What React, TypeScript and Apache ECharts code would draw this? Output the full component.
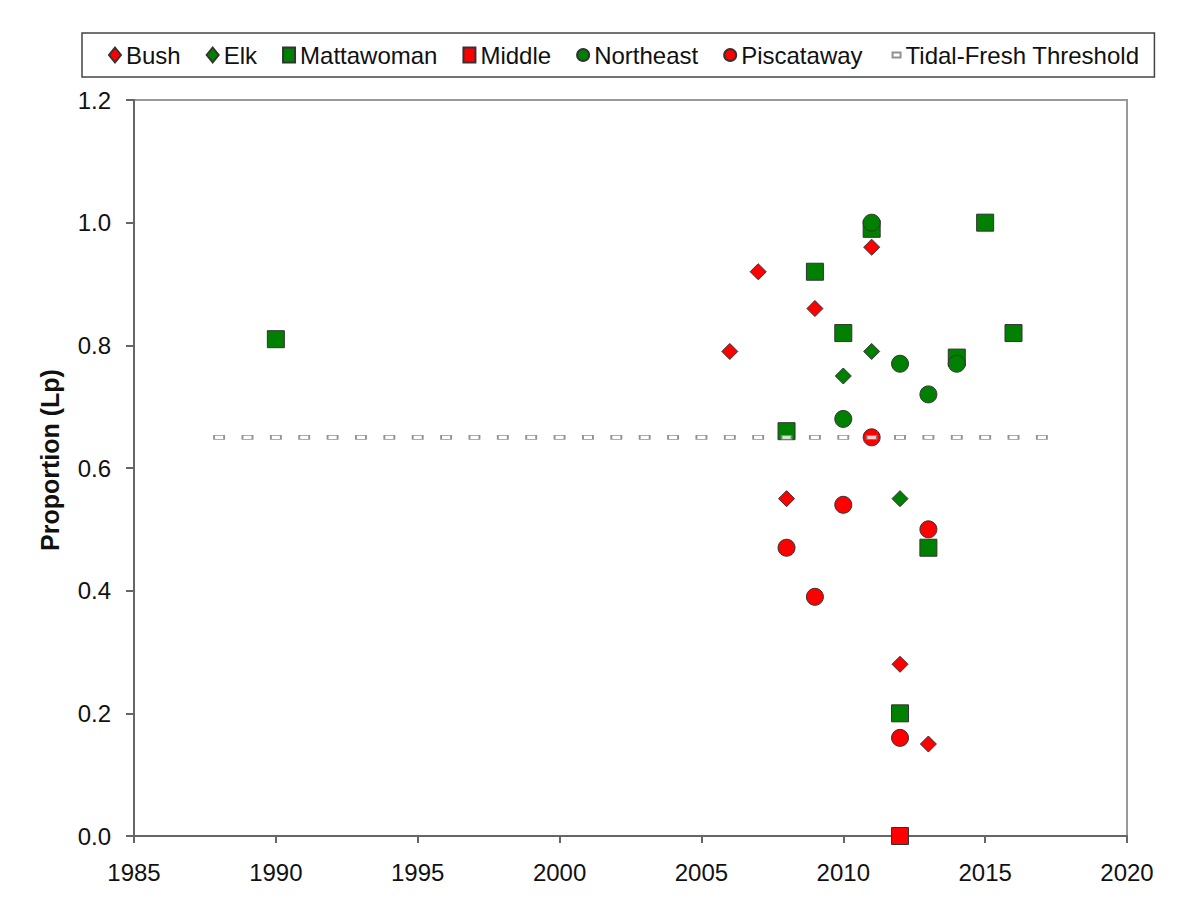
import React, { useEffect, useRef } from "react";
import * as echarts from "echarts";

const bushYears = [2006, 2007, 2008, 2009, 2011, 2012, 2013];
const bushValues = [0.79, 0.92, 0.55, 0.86, 0.96, 0.28, 0.15];
const elkYears = [2010, 2011, 2012];
const elkValues = [0.75, 0.79, 0.55];
const mattawomanYears = [1990, 2008, 2009, 2010, 2011, 2012, 2013, 2014, 2015, 2016];
const mattawomanValues = [0.81, 0.66, 0.92, 0.82, 0.99, 0.2, 0.47, 0.78, 1.0, 0.82];
const middleYears = [2012];
const middleValues = [0.0];
const northeastYears = [2010, 2011, 2012, 2013, 2014];
const northeastValues = [0.68, 1.0, 0.77, 0.72, 0.77];
const piscatawayYears = [2008, 2009, 2010, 2011, 2012, 2013];
const piscatawayValues = [0.47, 0.39, 0.54, 0.65, 0.16, 0.5];
const thresholdYears = [
  1988, 1989, 1990, 1991, 1992, 1993, 1994, 1995, 1996, 1997, 1998, 1999, 2000, 2001, 2002,
  2003, 2004, 2005, 2006, 2007, 2008, 2009, 2010, 2011, 2012, 2013, 2014, 2015, 2016, 2017,
];
const thresholdValue = 0.65;

const zip = (xs: number[], ys: number[]) => xs.map((x, i) => [x, ys[i]]);

const FONT = "Liberation Sans, Arial, sans-serif";
const RED = "#FF0000";
const GREEN = "#008000";
const EDGE = "#333333";

export default function App() {
  const ref = useRef<HTMLDivElement>(null);
  useEffect(() => {
    document.body.style.margin = "0";
    const chart = echarts.init(ref.current!, undefined, { renderer: "svg" });
    const mk = (name: string, symbol: string, size: number, color: string, data: number[][]) => ({
      name,
      type: "scatter",
      symbol,
      symbolSize: size,
      itemStyle: { color, borderColor: EDGE, borderWidth: 1, opacity: 1 },
      data,
      z: 2,
    });
    chart.setOption({
      animation: false,
      backgroundColor: "#ffffff",
      textStyle: { fontFamily: FONT },
      legend: {
        left: 82,
        top: 33,
        padding: [10, 15, 10, 26],
        borderColor: "#444",
        borderWidth: 1.5,
        itemGap: 25,
        itemWidth: 12,
        itemHeight: 15,
        textStyle: { fontFamily: FONT, fontSize: 24, color: "#111" },
        data: [
          { name: "Bush" },
          { name: "Elk" },
          { name: "Mattawoman" },
          { name: "Middle" },
          { name: "Northeast" },
          { name: "Piscataway" },
          {
            name: "Tidal-Fresh Threshold",
            icon: "path://M0,0M12,15M4,5h8v5h-8z",
          },
        ],
      },
      grid: {
        left: 134,
        right: 55,
        top: 100,
        bottom: 77,
        show: true,
        borderColor: "#999",
        borderWidth: 2,
      },
      xAxis: {
        type: "value",
        min: 1985,
        max: 2020,
        interval: 5,
        axisLine: { show: true, onZero: false, lineStyle: { color: "#666", width: 2 } },
        axisTick: { show: true, inside: false, length: 7, lineStyle: { color: "#666", width: 2 } },
        splitLine: { show: false },
        axisLabel: {
          fontFamily: FONT,
          fontSize: 24,
          color: "#111",
          margin: 24,
          formatter: (v: number) => String(v),
        },
      },
      yAxis: {
        type: "value",
        min: 0,
        max: 1.2,
        interval: 0.2,
        name: "Proportion (Lp)",
        nameLocation: "middle",
        nameGap: 72,
        nameTextStyle: {
          fontFamily: FONT,
          fontSize: 25,
          fontWeight: "bold",
          color: "#111",
          padding: [0, 0, 0, 16],
        },
        axisLine: { show: true, onZero: false, lineStyle: { color: "#666", width: 2 } },
        axisTick: { show: true, inside: false, length: 8, lineStyle: { color: "#666", width: 2 } },
        splitLine: { show: false },
        axisLabel: {
          fontFamily: FONT,
          fontSize: 24,
          color: "#111",
          margin: 23,
          formatter: (v: number) => v.toFixed(1),
        },
      },
      series: [
        mk("Bush", "diamond", 16, RED, zip(bushYears, bushValues)),
        mk("Elk", "diamond", 16, GREEN, zip(elkYears, elkValues)),
        mk("Mattawoman", "rect", 17, GREEN, zip(mattawomanYears, mattawomanValues)),
        mk("Middle", "rect", 17, RED, zip(middleYears, middleValues)),
        mk("Northeast", "circle", 17, GREEN, zip(northeastYears, northeastValues)),
        mk("Piscataway", "circle", 17, RED, zip(piscatawayYears, piscatawayValues)),
        {
          name: "Tidal-Fresh Threshold",
          type: "scatter",
          symbol: "rect",
          symbolSize: [10, 4],
          itemStyle: { color: "#ffffff", borderColor: "#777", borderWidth: 1.2 },
          data: thresholdYears.map((y) => [y, thresholdValue]),
          z: 3,
        },
      ],
    });
    return () => chart.dispose();
  }, []);
  return <div ref={ref} style={{ width: 1182, height: 913 }} />;
}
